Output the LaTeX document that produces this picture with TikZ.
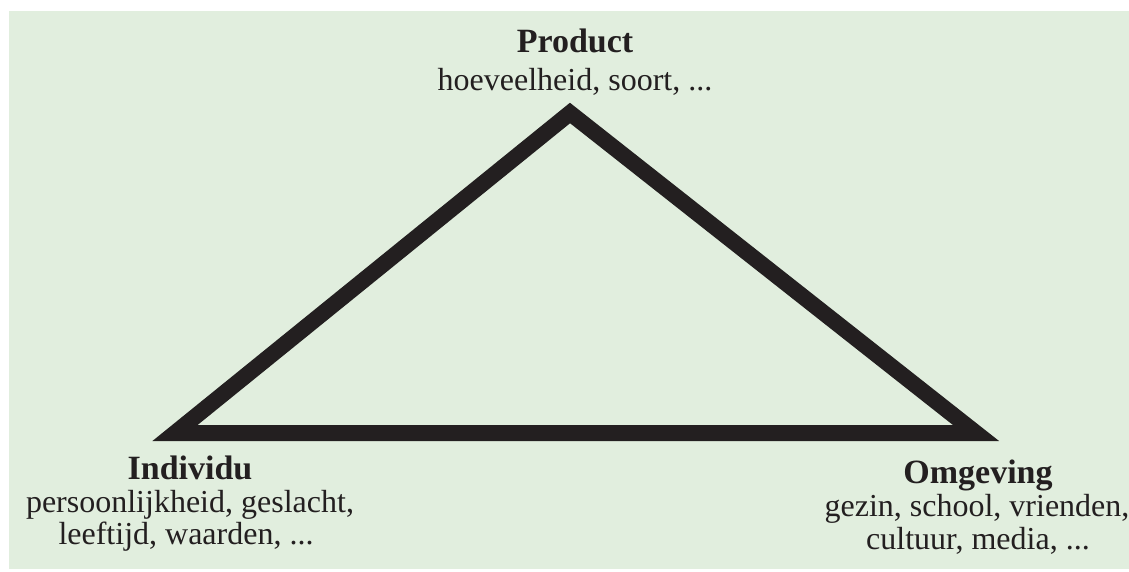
\documentclass[tikz,border=0pt]{standalone}
\usepackage{fontspec}
\setmainfont{Liberation Serif}
\definecolor{bg}{HTML}{E1EEDE}
\definecolor{ink}{HTML}{231F20}
\begin{document}
\begin{tikzpicture}[x=1pt,y=-1pt,
  lbl/.style={anchor=base,inner sep=0pt,text=ink,font=\fontsize{32}{38}\selectfont},
  head/.style={lbl,font=\fontsize{34}{40}\selectfont\bfseries},
  edge/.style={draw=ink,line width=16pt,line join=miter}]
\useasboundingbox (0,0) rectangle (1129,571);
\fill[bg] (9,11) rectangle (1129,569);
\coordinate (P) at (570,113);
\coordinate (I) at (175,433);
\coordinate (O) at (976,433);
\draw[edge] (P) -- (I) -- (O) -- cycle;
\node[head] (prodT) at (575,52) {Product};
\node[lbl] (prodA) at (575,90) {hoeveelheid, soort, ...};
\node[head] (indT) at (190,479) {Individu};
\node[lbl] (indA) at (190,512) {persoonlijkheid, geslacht,};
\node[lbl] (indB) at (186,544) {leeftijd, waarden, ...};
\node[head] (omgT) at (978,483) {Omgeving};
\node[lbl] (omgA) at (977,516) {gezin, school, vrienden,};
\node[lbl] (omgB) at (978,549) {cultuur, media, ...};
\end{tikzpicture}
\end{document}
